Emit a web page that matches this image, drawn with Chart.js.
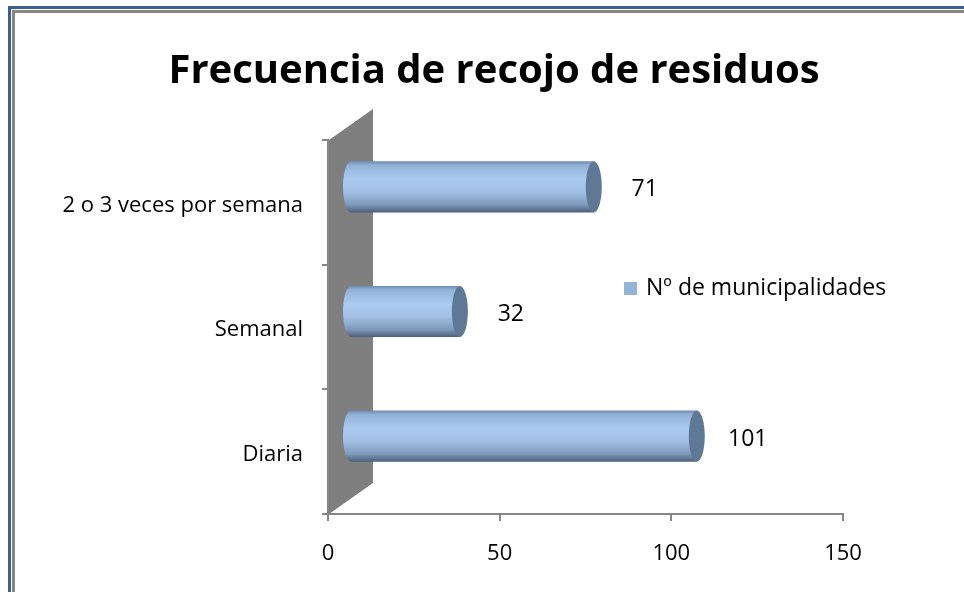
<!DOCTYPE html>
<html lang="es">
    <head>
        <meta charset="UTF-8" />
        <title>Frecuencia de recojo de residuos</title>
        <script src="https://cdn.jsdelivr.net/npm/chart.js"></script>
        <style>
            html, body { margin: 0; padding: 0; background: #fff; overflow: hidden; }
            #frame {
                position: absolute; left: 8px; top: 6px; width: 1000px; height: 700px;
                border-left: 3px solid #3b5f8e; border-top: 3px solid #3b5f8e;
            }
            #inner {
                position: absolute; left: 1px; top: 1px; right: 0; bottom: 0;
                border-left: 3px solid #868686; border-top: 3px solid #868686;
            }
            #wrap { position: absolute; left: 0; top: 0; width: 964px; height: 592px; }
        </style>
    </head>
    <body>
        <div id="frame"><div id="inner"></div></div>
        <div id="wrap"><canvas id="myChart" width="964" height="592"></canvas></div>

        <script>
            // datos del gráfico
            const categorias = ["2 o 3 veces por semana", "Semanal", "Diaria"];
            const municipalidades = [71, 32, 101];
            const ticksX = [0, 50, 100, 150];
            const serieNombre = "Nº de municipalidades";
            const titulo = "Frecuencia de recojo de residuos";
            const colorLeyenda = "#94b3d8";

            const FONT = "'Open Sans', sans-serif";
            const DX = 22, DY = -15.5; // desplazamiento de profundidad 3D

            // pared gris del fondo
            const paredPlugin = {
                id: "pared",
                beforeDatasetsDraw(chart) {
                    const a = chart.chartArea;
                    const c = chart.ctx;
                    c.save();
                    c.fillStyle = "#7f7f7f";
                    c.beginPath();
                    c.moveTo(a.left + 1, a.top);
                    c.lineTo(a.left + 45, a.top - 31);
                    c.lineTo(a.left + 45, a.bottom - 31);
                    c.lineTo(a.left + 1, a.bottom);
                    c.closePath();
                    c.fill();
                    c.restore();
                },
            };

            // cilindros, etiquetas, leyenda y título
            const cilindroPlugin = {
                id: "cilindro",
                afterDatasetsDraw(chart) {
                    const c = chart.ctx;
                    const meta = chart.getDatasetMeta(0);
                    meta.data.forEach((bar, i) => {
                        const x0 = bar.base + DX;
                        const x1 = bar.x + DX;
                        const yc = bar.y + DY;
                        const h = bar.height;
                        const rx = 8;
                        const top = yc - h / 2;
                        const g = c.createLinearGradient(0, top, 0, top + h);
                        g.addColorStop(0, "#6f8bb0");
                        g.addColorStop(0.08, "#93b2d8");
                        g.addColorStop(0.35, "#abcaf0");
                        g.addColorStop(0.6, "#a2c0e4");
                        g.addColorStop(0.85, "#7f99ba");
                        g.addColorStop(1, "#4a5f7b");
                        c.save();
                        c.fillStyle = g;
                        c.beginPath();
                        c.moveTo(x1, top);
                        c.lineTo(x0, top);
                        c.ellipse(x0, yc, rx, h / 2, 0, -Math.PI / 2, Math.PI / 2, true);
                        c.lineTo(x1, top + h);
                        c.closePath();
                        c.fill();
                        c.fillStyle = "#5f7896";
                        c.beginPath();
                        c.ellipse(x1, yc, rx, h / 2, 0, 0, Math.PI * 2);
                        c.fill();
                        c.fillStyle = "#000";
                        c.font = "23px " + FONT;
                        c.textAlign = "center";
                        c.textBaseline = "middle";
                        c.fillText(String(municipalidades[i]), x1 + rx + 43, yc + 3);
                        c.restore();
                    });
                    // leyenda
                    const a = chart.chartArea;
                    c.save();
                    c.fillStyle = colorLeyenda;
                    c.fillRect(a.left + 296, a.top + 142, 13, 13);
                    c.fillStyle = "#000";
                    c.font = "23px " + FONT;
                    c.textAlign = "left";
                    c.textBaseline = "middle";
                    c.fillText(serieNombre, a.left + 318, a.top + 148);
                    c.restore();
                },
                afterDraw(chart) {
                    const c = chart.ctx;
                    const t = chart.titleBlock;
                    c.save();
                    c.fillStyle = "#000";
                    c.font = "bold 40px " + FONT;
                    c.textAlign = "center";
                    c.textBaseline = "middle";
                    c.fillText(titulo, chart.width / 2 + 12, (t.top + t.bottom) / 2 + 2);
                    c.restore();
                },
            };

            var ctx = document.getElementById("myChart").getContext("2d");
            var myChart = new Chart(ctx, {
                type: "bar",
                data: {
                    labels: categorias,
                    datasets: [
                        {
                            label: serieNombre,
                            data: municipalidades,
                            backgroundColor: "rgba(0,0,0,0)",
                            borderWidth: 0,
                            categoryPercentage: 1,
                            barPercentage: 0.41,
                        },
                    ],
                },
                options: {
                    indexAxis: "y",
                    responsive: false,
                    animation: false,
                    devicePixelRatio: 1,
                    layout: { padding: { left: 0, right: 121, top: 0, bottom: 0 } },
                    scales: {
                        x: {
                            min: 0,
                            max: 150,
                            afterBuildTicks: (s) => { s.ticks = ticksX.map((v) => ({ value: v })); },
                            afterFit: (s) => { s.height = 78; },
                            border: { color: "#868686", width: 2 },
                            grid: { drawOnChartArea: false, color: "#868686", lineWidth: 2, tickLength: 7 },
                            ticks: { color: "#000", padding: 20, font: { family: FONT, size: 22 } },
                        },
                        y: {
                            afterFit: (s) => { s.width = 328; },
                            border: { color: "#868686", width: 2 },
                            grid: { offset: true, drawOnChartArea: false, color: "#868686", lineWidth: 2, tickLength: 6 },
                            ticks: { color: "#000", padding: 19, labelOffset: 3, font: { family: FONT, size: 22 } },
                        },
                    },
                    plugins: {
                        legend: { display: false },
                        tooltip: { enabled: false },
                        title: {
                            display: true,
                            text: titulo,
                            color: "rgba(0,0,0,0)",
                            font: { family: FONT, size: 40, weight: "bold", lineHeight: 1.2 },
                            padding: { top: 40, bottom: 52 },
                        },
                    },
                },
                plugins: [paredPlugin, cilindroPlugin],
            });
        </script>
    </body>
</html>
